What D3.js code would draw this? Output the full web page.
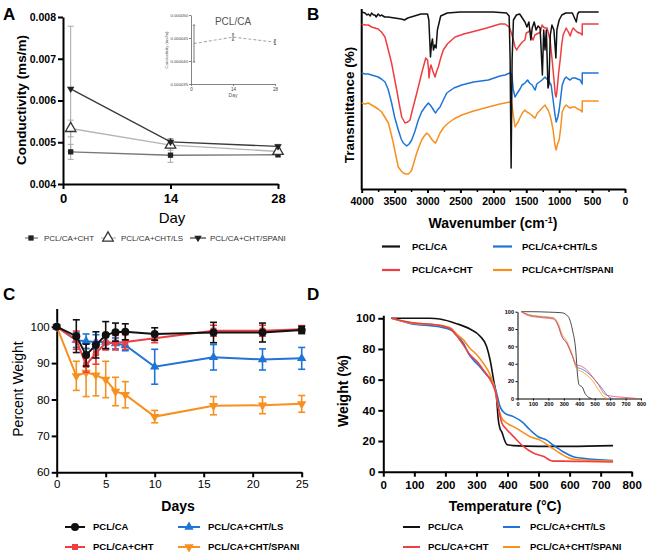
<!DOCTYPE html>
<html><head><meta charset="utf-8">
<script src="https://cdn.jsdelivr.net/npm/d3@7"></script>
<style>body{margin:0;background:#fff} svg{display:block}</style>
</head><body><svg id="c" width="650" height="554"></svg>
<script>
// ---------------- DATA ----------------
// Panel A: conductivity
const aDays = [1, 14, 28];
const aCHT = [0.00477, 0.00469, 0.00470];
const aCHTErr = [0.00018, 0.00017, 0.00005];
const aLS = [0.00533, 0.00493, 0.00478];
const aLSErr = [0.00020, 0.00012, 0.00008];
const aSPANI = [0.00628, 0.00501, 0.00490];
const aSPANIErr = [0.00150, 0.00008, 0.00005];
const aYTicks = [0.004, 0.005, 0.006, 0.007, 0.008];
const aXTicks = [0, 14, 28];
// Panel A inset: PCL/CA
const aInsDays = [1, 14, 28];
const aInsVal = [0.0000438, 0.0000452, 0.0000441];
const aInsErr = [0.0000040, 0.0000007, 0.0000005];
const aInsYTicks = [0.000035, 0.000040, 0.000045, 0.000050];

// Panel B: FTIR spectra [wavenumber, transmittance (a.u.)]
const bBlack = [[4000,177],[3950,176],[3920,174],[3900,175],[3870,173],[3850,176],[3820,174],[3800,174],[3780,172],[3750,175],[3720,173],[3700,174],[3650,172],[3600,172],[3500,171],[3400,170],[3350,169],[3300,171],[3200,173],[3100,175],[3000,175],[2980,169],[2955,132],[2940,145],[2925,150],[2910,139],[2890,144],[2870,141],[2850,159],[2800,173],[2700,176],[2500,177],[2000,177],[1800,176],[1760,173],[1745,129],[1730,21],[1715,129],[1695,169],[1650,174],[1600,175],[1560,171],[1520,167],[1490,162],[1460,167],[1430,149],[1410,161],[1380,167],[1350,159],[1320,163],[1290,161],[1255,114],[1235,159],[1215,139],[1195,159],[1170,101],[1155,105],[1135,154],[1110,164],[1080,159],[1050,131],[1035,159],[1000,169],[960,174],[900,176],[800,176],[760,170],[740,167],[720,175],[700,177],[400,177]];
const bRed = [[4000,165],[3950,164],[3900,164],[3850,162],[3800,161],[3750,160],[3700,157],[3646,152],[3600,140],[3546,126],[3500,110],[3468,99],[3430,85],[3392,72],[3342,66],[3300,67],[3266,69],[3230,79],[3190,89],[3140,102],[3088,116],[3027,131],[3000,129],[2985,120],[2977,111],[2960,121],[2947,124],[2920,118],[2886,112],[2860,118],[2836,122],[2800,131],[2760,139],[2700,145],[2582,152],[2450,155],[2330,157],[2100,161],[1900,165],[1822,165],[1760,162],[1730,157],[1700,150],[1670,142],[1645,139],[1620,142],[1596,144],[1560,147],[1520,149],[1500,156],[1470,157],[1442,159],[1420,152],[1397,149],[1370,154],[1340,155],[1310,156],[1290,156],[1260,164],[1240,162],[1214,161],[1183,161],[1160,155],[1138,149],[1107,129],[1080,110],[1060,95],[1046,92],[1030,100],[1010,115],[985,129],[960,145],[940,154],[894,161],[860,157],[833,153],[810,158],[787,161],[760,159],[727,157],[700,156],[681,156],[650,154],[649,165],[400,165]];
const bBlue = [[4000,116],[3950,115],[3900,115],[3850,114],[3798,113],[3750,112],[3700,110],[3646,107],[3600,100],[3545,86],[3500,72],[3444,59],[3400,50],[3368,46],[3316,43],[3280,45],[3240,49],[3190,58],[3140,69],[3090,77],[3038,82],[2988,86],[2960,84],[2927,81],[2900,78],[2876,76],[2850,79],[2810,82],[2760,89],[2708,96],[2600,101],[2480,104],[2300,107],[2076,109],[1900,113],[1822,114],[1750,116],[1720,115],[1697,99],[1670,92],[1645,95],[1625,97],[1595,100],[1565,104],[1540,105],[1520,106],[1480,109],[1450,106],[1410,104],[1385,101],[1365,99],[1340,105],[1300,107],[1260,109],[1214,112],[1190,110],[1168,109],[1122,104],[1092,89],[1065,75],[1046,67],[1020,72],[1000,79],[975,92],[954,104],[920,110],[894,112],[860,110],[833,109],[800,111],[757,111],[720,110],[681,109],[650,105],[649,116],[400,116]];
const bOrange = [[4000,86],[3950,85],[3900,86],[3850,84],[3798,82],[3750,80],[3696,77],[3650,72],[3595,66],[3560,57],[3520,46],[3480,33],[3444,22],[3400,18],[3368,16],[3330,15],[3292,15],[3260,17],[3240,19],[3200,28],[3164,36],[3120,44],[3088,49],[3050,53],[3012,56],[2977,54],[2950,51],[2927,49],[2900,47],[2876,46],[2850,50],[2810,56],[2750,62],[2684,66],[2600,70],[2480,74],[2300,78],[2076,82],[1900,85],[1822,86],[1750,87],[1720,85],[1697,74],[1670,62],[1645,65],[1625,67],[1590,72],[1560,76],[1520,79],[1490,77],[1460,76],[1420,74],[1390,72],[1365,71],[1330,76],[1300,78],[1260,81],[1214,84],[1190,81],[1168,79],[1140,74],[1122,69],[1092,59],[1065,44],[1046,39],[1025,45],[1000,49],[975,62],[954,77],[920,82],[894,84],[860,82],[833,81],[800,82],[757,82],[720,80],[681,79],[650,77],[649,88],[400,88]];
const bXTicks = [4000, 3500, 3000, 2500, 2000, 1500, 1000, 500, 0];
const bXMinor = [3750, 3250, 2750, 2250, 1750, 1250, 750, 250];

// Panel C: degradation (percent weight)
const cDays = [0, 2, 3, 4, 5, 6, 7, 10, 16, 21, 25];
const cPCL = [100, 97.4, 92.2, 95.0, 97.7, 98.5, 98.6, 98.0, 98.4, 98.4, 99.1];
const cPCLErr = [0, 4.5, 3.0, 3.6, 3.7, 2.5, 2.2, 1.7, 2.8, 2.6, 1.0];
const cCHT = [100, 96.3, 89.5, 92.7, 95.6, 95.6, 95.8, 96.8, 98.9, 98.9, 99.3];
const cCHTErr = [0, 2.5, 2.0, 3.0, 2.0, 2.0, 2.0, 1.2, 1.5, 1.5, 1.0];
const cLS = [100, 96.3, 96.0, 95.8, 95.8, 95.4, 94.9, 89.0, 91.6, 91.0, 91.3];
const cLSErr = [0, 2.0, 2.0, 2.0, 2.0, 1.5, 1.5, 4.8, 3.5, 2.9, 3.0];
const cSPANI = [100, 86.5, 87.4, 86.7, 85.5, 82.2, 81.3, 75.3, 78.3, 78.4, 78.8];
const cSPANIErr = [0, 4.0, 6.6, 5.7, 5.0, 3.9, 3.6, 1.7, 2.5, 2.3, 2.3];
const cXTicks = [0, 5, 10, 15, 20, 25];
const cYTicks = [60, 70, 80, 90, 100];

// Panel D: TGA [temperature, weight %]
const dBlack = [[25,100],[100,100],[150,100],[182,99.5],[236,96.5],[279,93],[311,88.5],[333,81.5],[344,72.8],[355,60],[365,47.5],[370,34.4],[376,28],[382,25.8],[387,22.6],[398,17.8],[419,17],[500,16.5],[600,16.5],[740,17]];
const dRed = [[27,100],[89,97.2],[175,95.6],[218,92.9],[234,89.3],[258,82.6],[279,76.2],[301,71.9],[322,66.4],[344,60],[355,55.6],[365,49],[370,42.6],[382,31.7],[398,27.4],[419,23],[451,16.5],[483,12.2],[515,10],[547,6.9],[579,6.9],[650,6.6],[740,6.3]];
const dBlue = [[27,100],[89,96.5],[175,94.6],[218,92.4],[234,89.3],[258,83.8],[274,77.2],[290,72.8],[311,68.5],[333,63],[355,57.6],[365,51.1],[376,42.4],[392,38],[419,35.9],[446,32.6],[473,27.2],[499,22.8],[526,20.6],[547,17.4],[579,13],[612,9.8],[644,8.7],[740,7.2]];
const dOrange = [[27,100],[89,97],[175,95.6],[218,93.5],[234,90.2],[258,85.9],[279,80.5],[301,76.2],[322,70.7],[344,63.1],[360,53.3],[370,42.4],[382,34.8],[398,31.6],[419,29.4],[446,26.1],[473,22.8],[505,20.6],[537,16.3],[569,12],[601,8.7],[644,7.6],[740,6.9]];
const dXTicks = [0, 100, 200, 300, 400, 500, 600, 700, 800];
const dYTicks = [0, 20, 40, 60, 80, 100];
// Panel D inset
const dInsBlack = [[25,100],[100,100],[200,99.5],[287,98.8],[330,94],[356,79],[377,56],[390,25],[399,15.7],[420,13],[437,6],[459,1.5],[480,0]];
const dInsRed = [[25,100],[70,95.5],[135,93.5],[233,91.5],[265,82.8],[287,71.3],[319,63.7],[352,50.3],[384,38.8],[416,37],[459,31],[491,23.6],[524,16],[567,4.6],[600,3],[643,1.9],[700,1.2],[773,0]];
const dInsBlue = [[25,100],[70,96.5],[135,94.5],[233,92.6],[265,84],[287,72],[319,64],[352,51],[384,36],[416,34],[480,25.6],[545,12.2],[600,0.8],[620,0]];
const dInsOrange = [[25,100],[70,96.8],[135,95],[233,93],[265,86],[287,75],[319,66],[352,52],[384,34],[416,31],[480,21.8],[524,10.3],[567,0.8],[590,0]];
const dInsXTicks = [0, 100, 200, 300, 400, 500, 600, 700, 800];
const dInsYTicks = [0, 20, 40, 60, 80, 100];

const names = ["PCL/CA", "PCL/CA+CHT", "PCL/CA+CHT/LS", "PCL/CA+CHT/SPANI"];
const COL = {black:"#111111", red:"#ef3e42", blue:"#1f74d8", orange:"#f7901e"};

// ---------------- DRAW ----------------
const FONT = '"Liberation Sans", Arial, Helvetica, sans-serif';
const svg = d3.select("#c").attr("font-family", FONT);

function styleAxis(g, sw, fs, fw, col) {
  col = col || "#000";
  g.attr("font-family", FONT);
  g.select(".domain").attr("stroke", col).attr("stroke-width", sw);
  g.selectAll(".tick line").attr("stroke", col).attr("stroke-width", sw);
  g.selectAll(".tick text").attr("font-size", fs).attr("font-weight", fw).attr("fill", col === "#000" ? "#000" : "#444");
}
function txt(x, y, s, o) {
  o = o || {};
  const t = svg.append("text").attr("x", x).attr("y", y).text(s)
    .attr("font-size", o.fs || 12).attr("font-weight", o.fw || "normal")
    .attr("fill", o.fill || "#000").attr("text-anchor", o.anchor || "start");
  if (o.rot) t.attr("transform", `rotate(-90,${x},${y})`);
  return t;
}
// panel letters
txt(3, 20, "A", {fs: 17, fw: "bold"});
txt(307, 20, "B", {fs: 17, fw: "bold"});
txt(3, 300, "C", {fs: 17, fw: "bold"});
txt(307, 300, "D", {fs: 17, fw: "bold"});

// ===== Panel A =====
{
  const x = d3.scaleLinear().domain([0, 28]).range([63, 278]);
  const y = d3.scaleLinear().domain([0.004, 0.008]).range([184, 17]);
  const gx = svg.append("g").attr("transform", "translate(0,184)")
    .call(d3.axisBottom(x).tickValues(aXTicks).tickSize(5).tickSizeOuter(0).tickPadding(5).tickFormat(d3.format("d")));
  styleAxis(gx, 2, 13, "bold");
  const gy = svg.append("g").attr("transform", "translate(63,0)")
    .call(d3.axisLeft(y).tickValues(aYTicks).tickSize(5).tickSizeOuter(0).tickPadding(2).tickFormat(d3.format(".3f")));
  styleAxis(gy, 2, 10.5, "bold");
  txt(172, 223, "Day", {fs: 15, anchor: "middle"});
  txt(21, 100, "Conductivity (ms/m)", {fs: 13.5, fw: "bold", anchor: "middle", rot: true}).attr("dy", "0.35em");

  const series = [
    {v: aCHT, e: aCHTErr, line: "#777", sym: "sq"},
    {v: aLS, e: aLSErr, line: "#b5b5b5", sym: "tri"},
    {v: aSPANI, e: aSPANIErr, line: "#3a3a3a", sym: "inv"}
  ];
  const ln = d3.line().x((d, i) => x(aDays[i])).y(d => y(d));
  series.forEach(s => {
    s.v.forEach((v, i) => {
      const cx = x(aDays[i]);
      svg.append("line").attr("x1", cx).attr("x2", cx).attr("y1", y(v - s.e[i])).attr("y2", y(v + s.e[i])).attr("stroke", "#a8a8a8").attr("stroke-width", 1);
      [v - s.e[i], v + s.e[i]].forEach(w => svg.append("line").attr("x1", cx - 3).attr("x2", cx + 3).attr("y1", y(w)).attr("y2", y(w)).attr("stroke", "#a8a8a8").attr("stroke-width", 1));
    });
  });
  series.forEach(s => {
    svg.append("path").datum(s.v).attr("d", ln).attr("fill", "none").attr("stroke", s.line).attr("stroke-width", 1.4);
  });
  function marker(sym, cx, cy) {
    if (sym === "sq") svg.append("path").attr("d", d3.symbol(d3.symbolSquare, 28)()).attr("transform", `translate(${cx},${cy})`).attr("fill", "#222");
    if (sym === "tri") svg.append("path").attr("d", d3.symbol(d3.symbolTriangle, 48)()).attr("transform", `translate(${cx},${cy})`).attr("fill", "#fff").attr("stroke", "#333").attr("stroke-width", 1.3);
    if (sym === "inv") svg.append("path").attr("d", d3.symbol(d3.symbolTriangle, 24)()).attr("transform", `translate(${cx},${cy}) rotate(180)`).attr("fill", "#222");
  }
  series.forEach(s => s.v.forEach((v, i) => marker(s.sym, x(aDays[i]), y(v))));

  const leg = [{x0: 25, x1: 38, m: 31, t: 44, s: series[0], n: names[1]},
               {x0: 101, x1: 116, m: 108, t: 121, s: series[1], n: names[2]},
               {x0: 190, x1: 206, m: 198, t: 210, s: series[2], n: names[3]}];
  leg.forEach(l => {
    svg.append("line").attr("x1", l.x0).attr("x2", l.x1).attr("y1", 238).attr("y2", 238).attr("stroke", l.s.line).attr("stroke-width", 1.2);
    marker(l.s.sym, l.m, 238);
    txt(l.t, 241, l.n, {fs: 8, fill: "#333"});
  });

  // inset
  const ix = d3.scaleLinear().domain([0, 28]).range([191, 275]);
  const iy = d3.scaleLinear().domain([0.000035, 0.000050]).range([84, 15]);
  const gix = svg.append("g").attr("transform", "translate(0,84)")
    .call(d3.axisBottom(ix).tickValues(aXTicks).tickSize(2).tickSizeOuter(0).tickPadding(2).tickFormat(d3.format("d")));
  styleAxis(gix, 0.8, 4.5, "normal", "#666");
  const giy = svg.append("g").attr("transform", "translate(191,0)")
    .call(d3.axisLeft(iy).tickValues(aInsYTicks).tickSize(2).tickSizeOuter(0).tickPadding(1).tickFormat(d3.format(".6f")));
  styleAxis(giy, 0.8, 4.2, "normal", "#666");
  txt(233, 97, "Day", {fs: 5, anchor: "middle", fill: "#555"});
  txt(168, 50, "Conductivity (ms/m)", {fs: 4.2, anchor: "middle", fill: "#555", rot: true});
  txt(233, 25, "PCL/CA", {fs: 10, anchor: "middle", fill: "#555"});
  const iln = d3.line().x((d, i) => ix(aInsDays[i])).y(d => iy(d));
  svg.append("path").datum(aInsVal).attr("d", iln).attr("fill", "none").attr("stroke", "#aaa").attr("stroke-width", 1.1).attr("stroke-dasharray", "3,2");
  aInsVal.forEach((v, i) => {
    const cx = ix(aInsDays[i]);
    svg.append("line").attr("x1", cx).attr("x2", cx).attr("y1", iy(v - aInsErr[i])).attr("y2", iy(v + aInsErr[i])).attr("stroke", "#555").attr("stroke-width", 0.8);
    [v - aInsErr[i], v + aInsErr[i]].forEach(w => svg.append("line").attr("x1", cx - 1.2).attr("x2", cx + 1.2).attr("y1", iy(w)).attr("y2", iy(w)).attr("stroke", "#555").attr("stroke-width", 0.8));
  });
}

// ===== Panel B =====
{
  const x = d3.scaleLinear().domain([4000, 0]).range([361.7, 625]);
  const y = d3.scaleLinear().domain([0, 179]).range([189, 10]);
  const gx = svg.append("g").attr("transform", "translate(0,189)")
    .call(d3.axisBottom(x).tickValues(bXTicks).tickSize(4).tickSizeOuter(0).tickPadding(5).tickFormat(d3.format("d")));
  styleAxis(gx, 2, 10.5, "bold");
  svg.append("g").attr("transform", "translate(0,189)")
    .call(d3.axisBottom(x).tickValues(bXMinor).tickSize(3).tickFormat(""))
    .call(g => { g.select(".domain").remove(); g.selectAll(".tick line").attr("stroke", "#000").attr("stroke-width", 1.5); });
  svg.append("line").attr("x1", 361.7).attr("x2", 361.7).attr("y1", 9).attr("y2", 190).attr("stroke", "#000").attr("stroke-width", 2);
  txt(349, 105, "Transmittance (%)", {fs: 13.5, fw: "bold", anchor: "middle", rot: true}).attr("dy", "0.35em");
  const wt = txt(493, 228, "Wavenumber (cm", {fs: 14, fw: "bold", anchor: "middle"});
  wt.append("tspan").attr("font-size", 9).attr("dy", -5).text("-1");
  wt.append("tspan").attr("dy", 5).text(")");
  const ln = d3.line().x(d => x(d[0])).y(d => y(d[1]));
  [[bOrange, COL.orange], [bBlue, COL.blue], [bRed, COL.red], [bBlack, COL.black]].forEach(([d, c]) =>
    svg.append("path").datum(d).attr("d", ln).attr("fill", "none").attr("stroke", c).attr("stroke-width", 1.5).attr("stroke-linejoin", "round"));
  const leg = [[382, 400, 412, 246.5, names[0], COL.black], [493, 512, 522, 246.5, names[2], COL.blue],
               [382, 400, 412, 270, names[1], COL.red], [493, 512, 522, 270, names[3], COL.orange]];
  leg.forEach(([a, b, t, yy, n, c]) => {
    svg.append("line").attr("x1", a).attr("x2", b).attr("y1", yy).attr("y2", yy).attr("stroke", c).attr("stroke-width", 2.2);
    txt(t, yy + 3.3, n, {fs: 9.5, fw: "bold"});
  });
}

// ===== Panel C =====
{
  const x = d3.scaleLinear().domain([0, 25]).range([56.7, 301.7]);
  const y = d3.scaleLinear().domain([60, 105]).range([472.3, 308.5]);
  const gx = svg.append("g").attr("transform", "translate(0,472.3)")
    .call(d3.axisBottom(x).tickValues(cXTicks).tickSize(5).tickSizeOuter(0).tickPadding(3));
  styleAxis(gx, 2, 11.5, "normal");
  const gy = svg.append("g").attr("transform", "translate(56.7,0)")
    .call(d3.axisLeft(y).tickValues(cYTicks).tickSize(5).tickSizeOuter(0).tickPadding(2));
  styleAxis(gy, 2, 11.5, "normal");
  txt(178, 511, "Days", {fs: 14, fw: "bold", anchor: "middle"});
  txt(18, 389, "Percent Weight", {fs: 14, anchor: "middle", rot: true}).attr("dy", "0.35em");
  const sers = [
    {v: cSPANI, e: cSPANIErr, c: COL.orange, sym: "inv"},
    {v: cLS, e: cLSErr, c: COL.blue, sym: "tri"},
    {v: cCHT, e: cCHTErr, c: COL.red, sym: "sq"},
    {v: cPCL, e: cPCLErr, c: COL.black, sym: "circ"}
  ];
  function marker(sym, cx, cy, c) {
    const m = {inv: [d3.symbolTriangle, 38, 180], tri: [d3.symbolTriangle, 38, 0], sq: [d3.symbolSquare, 36, 0], circ: [d3.symbolCircle, 50, 0]}[sym];
    svg.append("path").attr("d", d3.symbol(m[0], m[1])()).attr("transform", `translate(${cx},${cy}) rotate(${m[2]})`).attr("fill", c);
  }
  const ln = d3.line().x((d, i) => x(cDays[i])).y(d => y(d));
  sers.forEach(s => {
    s.v.forEach((v, i) => {
      if (!s.e[i]) return;
      const cx = x(cDays[i]);
      svg.append("line").attr("x1", cx).attr("x2", cx).attr("y1", y(v - s.e[i])).attr("y2", y(v + s.e[i])).attr("stroke", s.c).attr("stroke-width", 1.6);
      [v - s.e[i], v + s.e[i]].forEach(w => svg.append("line").attr("x1", cx - 3.5).attr("x2", cx + 3.5).attr("y1", y(w)).attr("y2", y(w)).attr("stroke", s.c).attr("stroke-width", 1.6));
    });
    svg.append("path").datum(s.v).attr("d", ln).attr("fill", "none").attr("stroke", s.c).attr("stroke-width", 2);
    s.v.forEach((v, i) => marker(s.sym, x(cDays[i]), y(v), s.c));
  });
  const leg = [[65, 85, 75, 93, 527, names[0], sers[3]], [178, 200, 189, 208, 527, names[2], sers[1]],
               [65, 85, 75, 93, 547, names[1], sers[2]], [178, 200, 189, 208, 547, names[3], sers[0]]];
  leg.forEach(([a, b, m, t, yy, n, s]) => {
    svg.append("line").attr("x1", a).attr("x2", b).attr("y1", yy).attr("y2", yy).attr("stroke", s.c).attr("stroke-width", 2);
    marker(s.sym, m, yy, s.c);
    txt(t, yy + 3.3, n, {fs: 9.5, fw: "bold"});
  });
}

// ===== Panel D =====
{
  const x = d3.scaleLinear().domain([0, 800]).range([383.3, 631.7]);
  const y = d3.scaleLinear().domain([0, 102]).range([471.7, 315.2]);
  const gx = svg.append("g").attr("transform", "translate(0,471.7)")
    .call(d3.axisBottom(x).tickValues(dXTicks).tickSize(5).tickSizeOuter(0).tickPadding(4));
  styleAxis(gx, 2, 11.5, "bold");
  const gy = svg.append("g").attr("transform", "translate(383.3,0)")
    .call(d3.axisLeft(y).tickValues(dYTicks).tickSize(5).tickSizeOuter(0).tickPadding(3));
  styleAxis(gy, 2, 11.5, "bold");
  txt(505, 511, "Temperature (°C)", {fs: 14, fw: "bold", anchor: "middle"});
  txt(343, 391, "Weight (%)", {fs: 14, fw: "bold", anchor: "middle", rot: true}).attr("dy", "0.35em");
  const ln = d3.line().x(d => x(d[0])).y(d => y(d[1])).curve(d3.curveMonotoneX);
  [[dBlack, COL.black], [dBlue, COL.blue], [dOrange, COL.orange], [dRed, COL.red]].forEach(([d, c]) =>
    svg.append("path").datum(d).attr("d", ln).attr("fill", "none").attr("stroke", c).attr("stroke-width", 1.6));

  // inset
  const ix = d3.scaleLinear().domain([0, 800]).range([517.5, 641]);
  const iy = d3.scaleLinear().domain([0, 100]).range([398.5, 311.7]);
  svg.append("rect").attr("x", 518).attr("y", 306).attr("width", 124).attr("height", 92).attr("fill", "#fff");
  const gix = svg.append("g").attr("transform", "translate(0,398.5)")
    .call(d3.axisBottom(ix).tickValues(dInsXTicks).tickSize(2).tickSizeOuter(0).tickPadding(2));
  styleAxis(gix, 1, 5.5, "bold");
  const giy = svg.append("g").attr("transform", "translate(517.5,0)")
    .call(d3.axisLeft(iy).tickValues(dInsYTicks).tickSize(2).tickSizeOuter(0).tickPadding(1.5));
  styleAxis(giy, 1, 5.5, "bold");
  const iln = d3.line().x(d => ix(d[0])).y(d => iy(d[1])).curve(d3.curveMonotoneX);
  [[dInsBlack, COL.black], [dInsBlue, COL.blue], [dInsOrange, COL.orange], [dInsRed, COL.red]].forEach(([d, c]) =>
    svg.append("path").datum(d).attr("d", iln).attr("fill", "none").attr("stroke", c).attr("stroke-width", 0.9).attr("stroke-opacity", 0.85));

  const leg = [[403, 420, 428, 527, names[0], COL.black], [503, 520, 530, 527, names[2], COL.blue],
               [403, 420, 428, 547, names[1], COL.red], [503, 520, 530, 547, names[3], COL.orange]];
  leg.forEach(([a, b, t, yy, n, c]) => {
    svg.append("line").attr("x1", a).attr("x2", b).attr("y1", yy).attr("y2", yy).attr("stroke", c).attr("stroke-width", 2);
    txt(t, yy + 3.3, n, {fs: 9.5, fw: "bold"});
  });
}
</script></body></html>
